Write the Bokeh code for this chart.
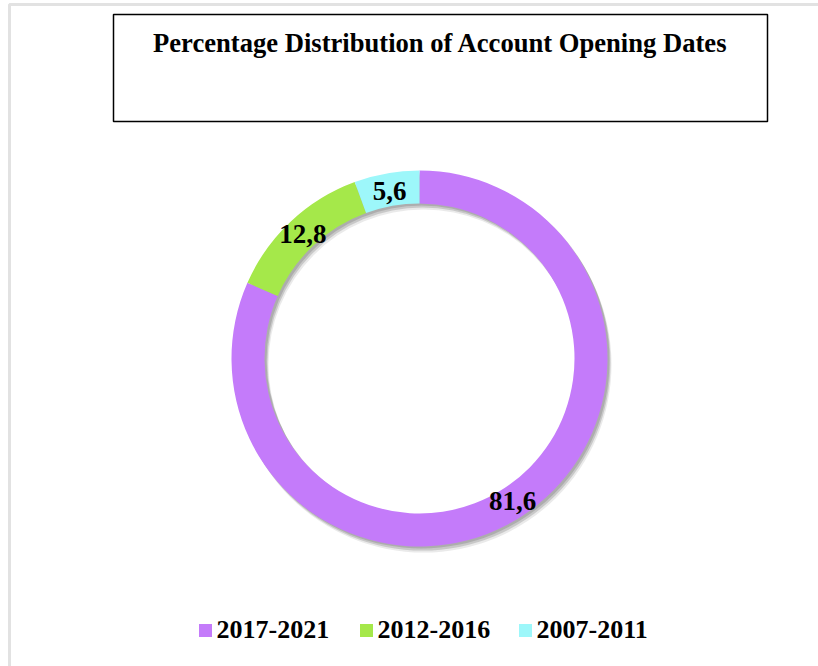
import math
from bokeh.plotting import figure
from bokeh.models import ColumnDataSource, Range1d
from bokeh.core.properties import value
from bokeh.embed import file_html
from bokeh.resources import INLINE

# ---- data ----
categories = ["2017-2021", "2012-2016", "2007-2011"]
percentages = [81.6, 12.8, 5.6]
labels = ["81,6", "12,8", "5,6"]
colors = ["#C47BFA", "#A5E84A", "#9DF7FA"]
title_text = "Percentage Distribution of Account Opening Dates"

W, H = 818, 666
FONT = "Liberation Serif"

p = figure(width=W, height=H, output_backend="svg", toolbar_location=None,
           x_range=Range1d(0, W), y_range=Range1d(0, H), min_border=0)
p.axis.visible = False
p.grid.visible = False
p.background_fill_color = "white"
p.outline_line_color = None

# outer chart border (light gray)
p.quad(left=[9], right=[W + 20], bottom=[-20], top=[H - 4],
       fill_color=None, line_color="#e2e2e2", line_width=3)

# title box
p.quad(left=[113], right=[767], bottom=[H - 121], top=[H - 14],
       fill_color="white", line_color="black", line_width=1.5)
p.text(x=[440], y=[H - 42], text=[title_text], text_font=value(FONT),
       text_font_style="bold", text_font_size="26.6px", text_align="center",
       text_baseline="middle", text_color="black")

# donut
cx, cy = 419, H - 358
r_in, r_out = 155, 188
total = sum(percentages)
starts, ends, mids = [], [], []
acc = 0.0
for v in percentages:
    a0 = math.pi / 2 - 2 * math.pi * acc / total
    acc += v
    a1 = math.pi / 2 - 2 * math.pi * acc / total
    starts.append(a0)
    ends.append(a1)
    mids.append((a0 + a1) / 2)

src = ColumnDataSource(dict(start=starts, end=ends, color=colors, cat=categories))
# soft shadow (two offset layers)
for dx, dy, a in [(4, -6, 0.10), (3, -4, 0.18), (2, -2, 0.18)]:
    p.annular_wedge(x=cx + dx, y=cy + dy, inner_radius=r_in, outer_radius=r_out,
                    inner_radius_units="screen", outer_radius_units="screen",
                    start_angle=0, end_angle=2 * math.pi, color="#333333",
                    alpha=a, line_color=None)
p.annular_wedge(x=cx, y=cy, inner_radius=r_in, outer_radius=r_out,
                inner_radius_units="screen", outer_radius_units="screen",
                start_angle="start", end_angle="end", direction="clock",
                fill_color="color", line_color=None, source=src)

r_lab = (r_in + r_out) / 2 - 1
lx = [cx + r_lab * math.cos(m) for m in mids]
ly = [cy + r_lab * math.sin(m) for m in mids]
p.text(x=lx, y=ly, text=labels, text_font=value(FONT), text_font_style="bold",
       text_font_size="27px", text_align="center", text_baseline="middle",
       text_color="black")

# legend
leg_sq_x = [205, 366, 525]
leg_y = H - 630
p.scatter(x=leg_sq_x, y=[leg_y] * 3, marker="square", size=13,
          fill_color=colors, line_color=None)
p.text(x=[x + 11 for x in leg_sq_x], y=[leg_y + 1] * 3, text=categories,
       text_font=value(FONT), text_font_style="bold", text_font_size="26px",
       text_align="left", text_baseline="middle", text_color="black")

open("out.html", "w").write(file_html(p, INLINE))
